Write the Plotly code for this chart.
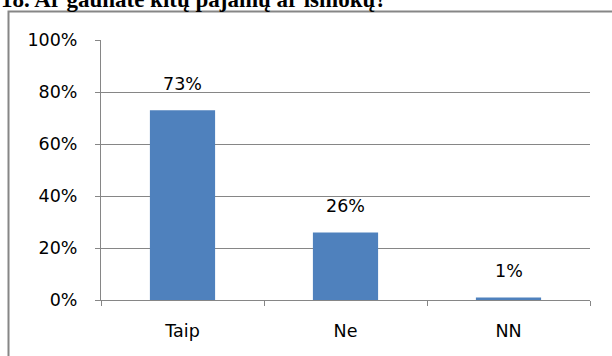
import plotly.graph_objects as go

# Survey answers and their shares
categories = ["Taip", "Ne", "NN"]
shares = [0.73, 0.26, 0.01]
share_labels = ["73%", "26%", "1%"]
y_ticks = [0, 0.2, 0.4, 0.6, 0.8, 1.0]
y_tick_text = ["0%", "20%", "40%", "60%", "80%", "100%"]
title_text = "18. Ar gaunate kitų pajamų ar išmokų?"

W, H = 612, 356
ML, MR, MT, MB = 101, 22, 40, 56
PW, PH = W - ML - MR, H - MT - MB


def px_to_paper_x(px):
    return (px - ML) / PW


def px_to_paper_y(py):
    return (H - MB - py) / PH


AXIS_GREY = "#868686"
LABEL_FONT = dict(family="DejaVu Sans, sans-serif", size=17.5, color="#000000")

fig = go.Figure()
fig.add_trace(
    go.Bar(
        x=categories,
        y=shares,
        marker=dict(color="#4F81BD", line=dict(width=0)),
        width=0.4,
        hoverinfo="skip",
    )
)

# value labels above each bar
for cat, val, lab in zip(categories, shares, share_labels):
    fig.add_annotation(
        x=cat, y=val, text=lab, showarrow=False,
        xref="x", yref="y", yanchor="bottom", yshift=14,
        font=LABEL_FONT,
    )

# question heading (partly outside the page top)
fig.add_annotation(
    x=px_to_paper_x(-1), y=px_to_paper_y(14), xref="paper", yref="paper",
    xanchor="left", yanchor="bottom", text="<b>" + title_text + "</b>",
    showarrow=False,
    font=dict(family="Liberation Serif, Times New Roman, serif", size=23, color="#000000"),
)

# chart frame
fig.add_shape(
    type="rect", xref="paper", yref="paper",
    x0=px_to_paper_x(8.5), x1=px_to_paper_x(W + 20),
    y0=px_to_paper_y(H + 20), y1=px_to_paper_y(11.5),
    line=dict(color=AXIS_GREY, width=2), fillcolor="rgba(0,0,0,0)", layer="above",
)

fig.update_layout(
    width=W, height=H,
    margin=dict(l=ML, r=MR, t=MT, b=MB, pad=0),
    paper_bgcolor="white", plot_bgcolor="white",
    showlegend=False,
    bargap=0.6,
    xaxis=dict(
        showline=True, linecolor=AXIS_GREY, linewidth=1,
        ticks="outside", ticklen=5, tickcolor=AXIS_GREY, tickwidth=1,
        tickson="boundaries", showgrid=False,
        tickfont=LABEL_FONT, ticklabelstandoff=15,
        fixedrange=True,
    ),
    yaxis=dict(
        range=[0, 1], tickvals=y_ticks, ticktext=y_tick_text,
        showline=True, linecolor=AXIS_GREY, linewidth=1,
        ticks="outside", ticklen=5, tickcolor=AXIS_GREY, tickwidth=1,
        showgrid=True, gridcolor=AXIS_GREY, gridwidth=1,
        zeroline=False, tickfont=LABEL_FONT, ticklabelstandoff=14,
        fixedrange=True,
    ),
)

fig.write_html("out.html")
